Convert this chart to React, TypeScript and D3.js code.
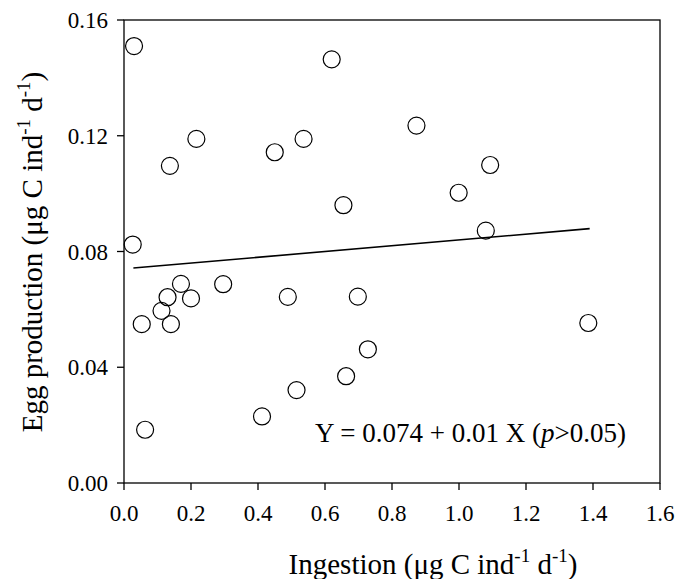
import React from "react";
import * as d3 from "d3";

const ingestion = [0.03, 0.026, 0.137, 0.216, 0.45, 0.62, 0.536, 0.873, 0.655, 0.999, 0.489, 0.698, 1.093, 1.08, 1.386, 0.17, 0.13, 0.2, 0.112, 0.053, 0.14, 0.296, 0.063, 0.412, 0.515, 0.663, 0.728];
const eggProduction = [0.151, 0.0824, 0.1096, 0.1189, 0.1143, 0.1464, 0.1189, 0.1235, 0.096, 0.1003, 0.0643, 0.0644, 0.1099, 0.0872, 0.0553, 0.0688, 0.0642, 0.0638, 0.0595, 0.0549, 0.0549, 0.0687, 0.0184, 0.023, 0.0321, 0.0369, 0.0462];
const xTicks = [0, 0.2, 0.4, 0.6, 0.8, 1.0, 1.2, 1.4, 1.6];
const yTicks = [0, 0.04, 0.08, 0.12, 0.16];
const intercept = 0.074;
const slope = 0.01;
const fitRange = [0.028, 1.39];

export default function App() {
  const W = 679, H = 579;
  const m = { left: 124, top: 20, right: 660, bottom: 483 };
  const x = d3.scaleLinear().domain([0, 1.6]).range([m.left, m.right]);
  const y = d3.scaleLinear().domain([0, 0.16]).range([m.bottom, m.top]);
  const line = d3.line<number>().x((d) => x(d)).y((d) => y(intercept + slope * d));
  const font = "'Liberation Serif', 'Times New Roman', serif";
  const sup = 19;
  const up = -12;
  return (
    <svg width={W} height={H} style={{ position: "absolute", left: 0, top: 0, background: "#fff" }} fontFamily={font}>
      <rect x={0} y={0} width={W} height={H} fill="#fff" />
      <rect x={m.left} y={m.top} width={m.right - m.left} height={m.bottom - m.top} fill="none" stroke="#000" strokeWidth={1.3} />
      {yTicks.map((t) => (
        <g key={"y" + t}>
          <line x1={m.left - 7} x2={m.left} y1={y(t)} y2={y(t)} stroke="#000" strokeWidth={1.3} />
          <text x={108} y={y(t)} dy="0.35em" textAnchor="end" fontSize={23}>{t.toFixed(2)}</text>
        </g>
      ))}
      {xTicks.map((t) => (
        <g key={"x" + t}>
          <line x1={x(t)} x2={x(t)} y1={m.bottom} y2={m.bottom + 7} stroke="#000" strokeWidth={1.3} />
          <text x={x(t)} y={521} textAnchor="middle" fontSize={23}>{t.toFixed(1)}</text>
        </g>
      ))}
      <path d={line(fitRange) || ""} fill="none" stroke="#000" strokeWidth={1.6} />
      {ingestion.map((v, i) => (
        <circle key={i} cx={x(v)} cy={y(eggProduction[i])} r={8.5} fill="none" stroke="#000" strokeWidth={1.2} />
      ))}
      <text x={315} y={442} fontSize={27}>
        Y = 0.074 + 0.01 X (<tspan fontStyle="italic">p</tspan>&gt;0.05)
      </text>
      <text x={433} y={574} textAnchor="middle" fontSize={29}>
        Ingestion (μg C ind<tspan fontSize={sup} dy={up}>-1</tspan><tspan dy={-up}> d</tspan><tspan fontSize={sup} dy={up}>-1</tspan><tspan dy={-up}>)</tspan>
      </text>
      <text transform={`translate(42,252) rotate(-90)`} textAnchor="middle" fontSize={29}>
        Egg production (μg C ind<tspan fontSize={sup} dy={up}>-1</tspan><tspan dy={-up}> d</tspan><tspan fontSize={sup} dy={up}>-1</tspan><tspan dy={-up}>)</tspan>
      </text>
    </svg>
  );
}
